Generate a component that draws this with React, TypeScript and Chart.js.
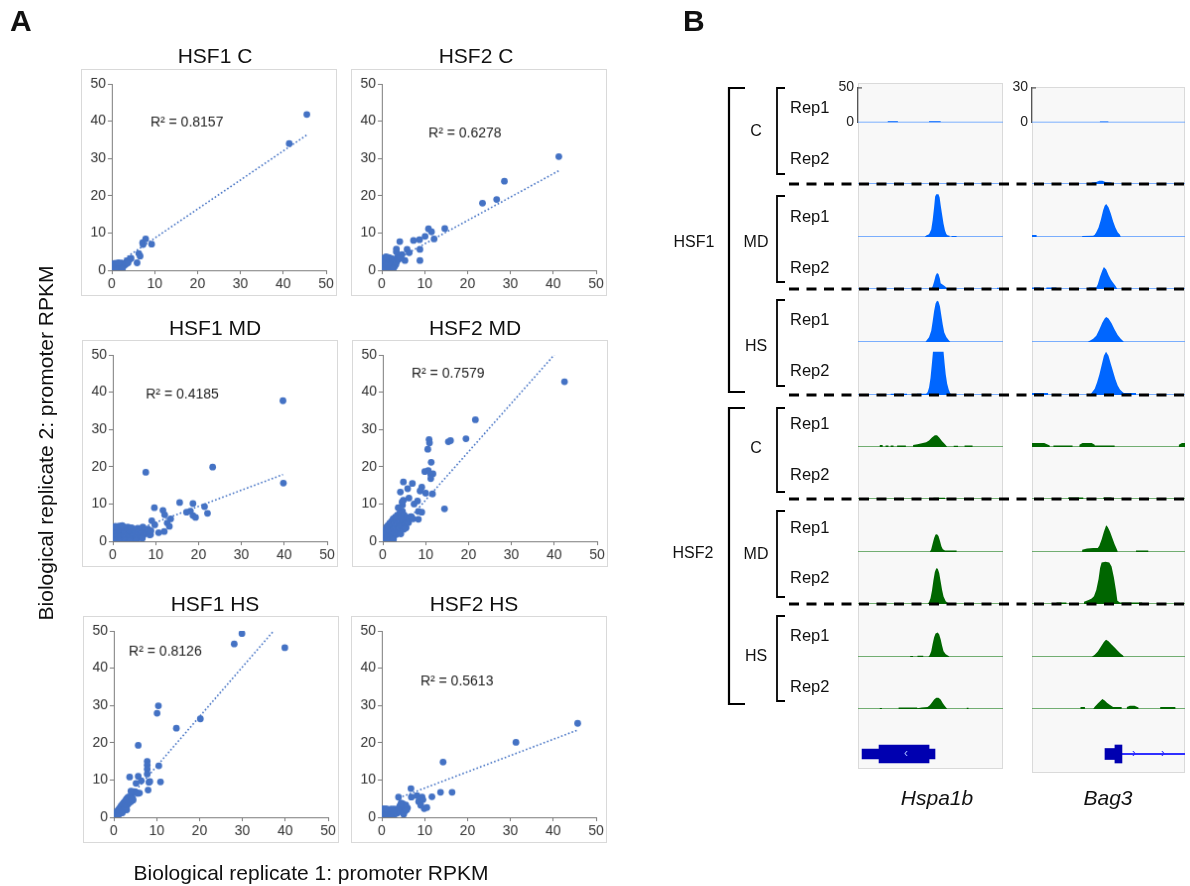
import React, { useEffect, useRef } from "react";
import { Chart, registerables } from "chart.js";
Chart.register(...registerables);

const FONT = "'Liberation Sans', Arial, Helvetica, sans-serif";
Chart.defaults.font.family = FONT;

// ---------------- Panel A data ----------------
const AXIS_TICKS = [0, 10, 20, 30, 40, 50];

const HSF1_C_POINTS: [number, number][] = [
  [45.5, 41.8], [41.4, 34.0], [7.9, 8.4], [7.2, 7.4], [7.3, 6.9], [9.3, 7.0], [6.3, 4.5], [6.6, 3.8],
  [5.9, 2.0], [4.5, 3.2], [3.6, 2.4], [3.9, 2.7], [4.2, 2.9],
  [0.1, 0.1], [0.2, 0.4], [0.3, 0.2], [0.4, 0.7], [0.5, 0.3], [0.6, 1.0], [0.7, 0.5], [0.8, 0.8],
  [0.9, 1.3], [1.0, 0.4], [1.1, 0.9], [1.2, 1.5], [1.3, 0.6], [1.4, 1.1], [1.5, 1.8], [1.6, 0.8],
  [1.7, 1.3], [1.8, 0.5], [1.9, 1.6], [2.0, 1.0], [2.1, 1.9], [2.2, 0.7], [2.3, 1.4], [2.4, 1.1],
  [2.6, 1.7], [2.8, 1.2], [3.0, 1.9], [3.2, 1.5], [3.4, 2.2], [3.6, 2.5], [3.8, 2.0], [0.3, 1.4],
  [0.5, 1.8], [0.2, 0.9], [1.0, 1.9], [1.6, 2.0], [0.8, 0.1], [1.4, 0.2], [2.5, 0.5],
];
const HSF1_C_TREND: [number, number][] = [[0, 0.8], [45.5, 36.3]];

const HSF2_C_POINTS: [number, number][] = [
  [41.3, 30.5], [28.6, 23.9], [26.8, 19.0], [23.5, 18.0], [14.7, 11.2], [10.9, 11.1], [11.6, 10.3],
  [12.2, 8.4], [10.1, 9.1], [8.8, 8.2], [7.4, 8.0], [8.9, 2.6], [8.9, 5.6], [4.2, 7.7], [3.4, 5.7],
  [5.9, 5.6], [6.4, 4.7], [4.7, 4.2], [5.4, 2.6],
  [0.1, 0.2], [0.2, 0.8], [0.3, 1.5], [0.4, 2.2], [0.5, 0.4], [0.6, 1.1], [0.7, 2.8], [0.8, 0.6],
  [0.9, 1.8], [1.0, 2.5], [1.1, 0.3], [1.2, 1.3], [1.3, 3.0], [1.4, 0.9], [1.5, 2.0], [1.6, 3.4],
  [1.7, 1.5], [1.8, 0.5], [1.9, 2.6], [2.0, 1.1], [2.1, 3.2], [2.2, 1.8], [2.3, 0.8], [2.4, 2.4],
  [2.5, 1.4], [2.6, 3.0], [2.8, 2.0], [3.0, 1.0], [3.1, 2.7], [3.3, 1.6], [3.5, 2.3], [3.7, 3.5],
  [4.0, 3.0], [4.3, 3.6], [3.4, 4.9], [0.2, 2.9], [0.5, 3.3], [1.0, 3.6], [0.3, 0.1], [2.7, 0.5],
];
const HSF2_C_TREND: [number, number][] = [[0, 0.8], [41.3, 26.7]];

const HSF1_MD_POINTS: [number, number][] = [
  [39.7, 37.7], [39.8, 15.6], [23.3, 19.9], [7.7, 18.5], [21.4, 9.3], [22.1, 7.5], [15.6, 10.4],
  [18.7, 10.1], [18.1, 8.1], [17.2, 7.8], [18.7, 6.9], [19.3, 6.4], [9.7, 9.0], [11.7, 8.3],
  [12.1, 7.1], [13.5, 6.0], [12.7, 4.9], [13.2, 4.0], [12.0, 2.6], [9.1, 5.5], [9.8, 4.4],
  [8.8, 1.8], [10.7, 2.3],
  [0.1, 0.3], [0.2, 1.5], [0.3, 2.6], [0.4, 3.5], [0.5, 0.8], [0.6, 2.0], [0.7, 3.0], [0.8, 1.2],
  [0.9, 3.8], [1.0, 0.4], [1.1, 2.4], [1.2, 1.6], [1.3, 3.3], [1.4, 0.9], [1.5, 4.1], [1.6, 2.8],
  [1.8, 1.3], [1.9, 3.6], [2.0, 0.6], [2.1, 2.1], [2.3, 3.0], [2.4, 1.0], [2.5, 3.9], [2.7, 1.8],
  [2.8, 2.7], [3.0, 0.8], [3.1, 3.4], [3.2, 1.5], [3.4, 2.5], [3.5, 3.8], [3.6, 0.5], [3.8, 1.9],
  [3.9, 3.1], [4.1, 1.2], [4.2, 2.7], [4.4, 3.6], [4.5, 0.9], [4.7, 2.2], [4.8, 1.5], [5.0, 3.2],
  [5.1, 0.6], [5.3, 2.0], [5.4, 2.9], [5.6, 1.3], [5.8, 3.5], [6.0, 2.4], [6.2, 1.0], [6.4, 3.0],
  [6.6, 1.9], [6.8, 2.6], [7.0, 3.8], [7.2, 1.7], [7.5, 3.0], [7.8, 2.3], [8.2, 3.3], [8.6, 1.7],
  [8.9, 2.8], [0.3, 0.1], [1.7, 0.2], [2.9, 0.3], [4.0, 0.2], [5.5, 0.3], [6.9, 0.8], [0.6, 4.0],
  [2.2, 4.2],
];
const HSF1_MD_TREND: [number, number][] = [[0, 0.7], [39.7, 17.9]];

const HSF2_MD_POINTS: [number, number][] = [
  [42.4, 42.8], [21.6, 32.6], [19.4, 27.5], [10.8, 27.3], [10.9, 26.4], [15.3, 26.7], [15.8, 27.0],
  [10.5, 24.7], [11.3, 21.2], [9.8, 18.7], [10.6, 19.0], [11.2, 17.9], [11.7, 18.1], [11.2, 16.8],
  [11.6, 12.7], [14.4, 8.7], [4.8, 15.9], [6.9, 15.5], [9.1, 14.5], [8.7, 13.5], [4.1, 13.2],
  [5.8, 14.1], [10.0, 12.9], [6.1, 11.6], [4.8, 11.0], [8.1, 10.8], [7.3, 10.0], [8.3, 8.0],
  [9.1, 7.8], [8.3, 5.9], [4.6, 9.7], [6.7, 6.5], [5.4, 3.7],
  [0.1, 0.2], [0.2, 1.0], [0.3, 2.0], [0.4, 0.5], [0.5, 3.0], [0.6, 1.5], [0.7, 0.3], [0.8, 2.5],
  [0.9, 3.8], [1.0, 1.0], [1.1, 2.0], [1.2, 4.2], [1.3, 0.6], [1.4, 3.2], [1.5, 1.7], [1.6, 4.8],
  [1.7, 2.6], [1.8, 0.9], [1.9, 3.7], [2.0, 5.3], [2.1, 1.6], [2.2, 2.9], [2.3, 4.4], [2.4, 6.0],
  [2.5, 1.2], [2.6, 3.5], [2.7, 2.2], [2.8, 5.0], [2.9, 6.5], [3.0, 4.0], [3.1, 1.8], [3.2, 3.0],
  [3.3, 5.8], [3.4, 7.0], [3.5, 4.6], [3.6, 2.5], [3.8, 6.2], [3.9, 3.6], [4.0, 7.6], [4.1, 5.2],
  [4.2, 2.0], [4.4, 6.6], [4.5, 4.3], [4.6, 8.0], [4.8, 5.8], [4.9, 3.2], [5.0, 7.0], [5.2, 6.0],
  [5.3, 4.6], [5.4, 3.6], [5.6, 5.6], [5.8, 6.4], [6.0, 5.0], [6.3, 6.2], [6.6, 6.6], [7.0, 6.0],
  [3.6, 9.0], [4.5, 10.5], [1.5, 0.2], [2.5, 0.5],
];
const HSF2_MD_TREND: [number, number][] = [[1.5, 0], [40.0, 50]];

const HSF1_HS_POINTS: [number, number][] = [
  [29.9, 49.3], [28.1, 46.5], [39.9, 45.5], [10.4, 29.9], [10.1, 27.9], [20.2, 26.4], [14.6, 23.9],
  [5.7, 19.3], [7.8, 15.0], [7.8, 14.0], [7.8, 12.9], [7.8, 11.6], [10.5, 13.8], [10.9, 9.5],
  [3.7, 10.8], [5.7, 11.0], [6.4, 9.8], [5.2, 9.1], [8.2, 9.4], [8.4, 9.6], [8.0, 7.3], [4.4, 6.9],
  [6.0, 6.5],
  [0.1, 0.1], [0.2, 0.5], [0.3, 0.2], [0.4, 0.9], [0.5, 0.4], [0.6, 1.2], [0.7, 0.7], [0.8, 1.6],
  [0.9, 0.5], [1.0, 1.3], [1.1, 2.0], [1.2, 0.9], [1.3, 1.7], [1.4, 2.5], [1.5, 1.2], [1.6, 2.1],
  [1.7, 3.0], [1.8, 1.5], [1.9, 2.6], [2.0, 3.4], [2.1, 1.9], [2.2, 2.9], [2.3, 3.9], [2.4, 2.3],
  [2.5, 3.3], [2.6, 4.3], [2.7, 2.6], [2.8, 3.7], [2.9, 4.8], [3.0, 3.0], [3.1, 4.1], [3.2, 5.2],
  [3.3, 3.5], [3.4, 4.5], [3.5, 5.5], [3.6, 3.9], [3.8, 4.8], [4.0, 4.2], [4.2, 5.4], [4.5, 4.6],
  [4.8, 6.9], [5.2, 6.7], [5.6, 6.4], [4.0, 7.0], [3.0, 2.0], [2.0, 1.2], [1.0, 0.3], [4.4, 5.0],
];
const HSF1_HS_TREND: [number, number][] = [[0, 0.4], [37.3, 50]];

const HSF2_HS_POINTS: [number, number][] = [
  [45.7, 25.2], [31.3, 20.1], [14.3, 14.8], [6.8, 7.7], [3.9, 5.4], [6.9, 5.4], [8.2, 5.8],
  [13.7, 6.7], [16.4, 6.7], [11.7, 5.5], [9.4, 5.4], [8.6, 4.2], [9.6, 4.7], [9.9, 2.3],
  [10.5, 2.6], [9.1, 3.2], [4.9, 3.6], [6.0, 2.5], [5.1, 0.8],
  [0.1, 0.1], [0.2, 0.6], [0.3, 1.2], [0.4, 1.8], [0.5, 0.3], [0.6, 0.9], [0.7, 1.5], [0.8, 2.0],
  [0.9, 0.4], [1.0, 1.1], [1.1, 1.7], [1.2, 0.2], [1.3, 0.8], [1.4, 1.4], [1.5, 2.1], [1.6, 0.5],
  [1.7, 1.2], [1.8, 1.8], [1.9, 0.3], [2.0, 1.0], [2.1, 1.6], [2.2, 2.2], [2.3, 0.6], [2.4, 1.3],
  [2.5, 1.9], [2.6, 0.4], [2.7, 1.1], [2.8, 1.7], [2.9, 2.2], [3.0, 0.8], [3.2, 1.5], [3.4, 2.0],
  [3.6, 1.1], [3.8, 1.8], [4.0, 2.5], [4.2, 3.0], [4.4, 1.5], [4.6, 3.5], [4.8, 2.2], [5.0, 3.1],
  [5.2, 1.3], [5.4, 2.7], [5.6, 3.3], [5.8, 2.0], [4.5, 3.8], [0.4, 2.3], [1.0, 2.3],
];
const HSF2_HS_TREND: [number, number][] = [[4.0, 5.2], [45.7, 23.4]];

// ---------------- Panel B data (x: 0-100 across locus, y: signal) ----------------
const HSPA1B_HSF1_C_REP1 = [[0, 0], [20.5, 0], [20.5, 2], [27.5, 2], [27.5, 0], [49, 0], [49, 2], [57, 2], [57, 0], [100, 0]];
const HSPA1B_HSF1_C_REP2 = [[0, 0], [100, 0]];
const HSPA1B_HSF1_MD_REP1 = [[0, 0], [46, 0], [47, 1.5], [49, 3], [50.5, 8], [51.5, 18], [52.5, 32], [53.2, 43], [54, 45.5], [55.5, 45.5], [56.3, 42], [57, 34], [58, 24], [59, 14], [60, 7], [61, 3], [62, 1.5], [63, 1.5], [63.2, 0], [64.5, 0], [64.5, 1], [68, 1], [68, 0], [100, 0]];
const HSPA1B_HSF1_MD_REP2 = [[0, 0], [39.5, 0], [39.5, 1], [40.5, 1], [40.5, 0], [50.5, 0], [51.5, 3], [52.5, 8], [53.5, 14], [54.5, 17], [55.5, 16], [56.5, 11], [57, 6], [58, 5], [59.5, 3.5], [61, 1.5], [62, 0], [96, 0], [96, 1.2], [97, 1.2], [97, 0], [100, 0]];
const HSPA1B_HSF1_HS_REP1 = [[0, 0], [46.5, 0], [47.5, 2], [49, 5], [50.5, 12], [51.5, 22], [52.5, 33], [53.5, 41], [54.5, 44], [55.5, 43], [56.5, 38], [57.5, 28], [58.5, 18], [59.5, 10], [61, 5], [62.5, 2], [63.7, 0], [100, 0]];
const HSPA1B_HSF1_HS_REP2 = [[0, 0], [22.5, 0], [22.5, 1.2], [33.8, 1.2], [33.8, 0], [40.7, 0], [40.7, 1.2], [47, 1.2], [48, 3], [49, 8], [50, 18], [51, 34], [51.7, 46], [59, 46], [59.7, 34], [60.5, 22], [61.5, 12], [62.5, 6], [63.5, 2], [64.5, 0], [100, 0]];
const HSPA1B_HSF2_C_REP1 = [[0, 0], [15, 0], [15, 2], [17, 2], [17, 0], [19, 0], [19, 1.5], [21, 1.5], [21, 0], [22.5, 0], [22.5, 1.5], [24.5, 1.5], [24.5, 0], [27, 0], [27, 1.5], [33, 1.5], [33, 0], [38, 0], [38, 2], [41, 3], [44, 4], [47, 5], [49, 7], [51, 10], [53, 12.5], [54.5, 12.5], [56, 10], [58, 6], [60, 3], [61, 1], [61.5, 0], [66, 0], [66, 1.2], [69, 1.2], [69, 0], [73.5, 0], [73.5, 1.5], [79, 1.5], [79, 0], [100, 0]];
const HSPA1B_HSF2_C_REP2 = [[0, 0], [52, 0], [52, 1.2], [60, 1.2], [60, 0], [100, 0]];
const HSPA1B_HSF2_MD_REP1 = [[0, 0], [49.5, 0], [50.5, 3], [51.5, 9], [52.5, 15], [53.5, 18.5], [54.5, 19], [55.5, 17], [56.5, 12], [57.5, 6], [58.5, 3], [60, 1.5], [68, 1.5], [68, 0], [100, 0]];
const HSPA1B_HSF2_MD_REP2 = [[0, 0], [48, 0], [49, 2], [50, 6], [51, 14], [52, 25], [53, 34], [54, 38], [55, 37.5], [56, 33], [57, 24], [58, 15], [59, 8], [60.5, 3], [62, 1], [62.5, 0], [100, 0]];
const HSPA1B_HSF2_HS_REP1 = [[0, 0], [36, 0], [36, 1], [38, 1], [38, 0], [41, 0], [41, 1.2], [45, 1.2], [45, 0], [48.5, 0], [49.5, 2], [50.5, 6], [51.5, 14], [52.5, 21], [53.5, 25], [55, 26], [56, 24], [57, 19], [58, 12], [59, 6], [60.5, 3], [62.5, 1], [63, 0], [100, 0]];
const HSPA1B_HSF2_HS_REP2 = [[0, 0], [15, 0], [15, 1], [16.5, 1], [16.5, 0], [28, 0], [28, 1.5], [40.7, 1.5], [41, 0.8], [44, 1.5], [48, 2], [49.5, 4], [51, 7], [52.5, 10], [54, 12], [55.5, 12], [57, 10], [58.5, 6], [60, 3], [61, 1], [61.5, 0], [75, 0], [75, 1.2], [76.2, 1.2], [76.2, 0], [100, 0]];

const BAG3_HSF1_C_REP1 = [[0, 0], [44.4, 0], [44.4, 1], [49.9, 1], [49.9, 0], [100, 0]];
const BAG3_HSF1_C_REP2 = [[0, 0], [39, 0], [39, 1], [42, 1.3], [44, 2], [46, 2], [48, 1.3], [52, 1], [52, 0], [100, 0]];
const BAG3_HSF1_MD_REP1 = [[0, 0], [0, 1.3], [3, 1.3], [3, 0], [32.8, 0], [32.8, 0.7], [40, 0.8], [41, 1.5], [42, 3], [43.5, 6], [45, 11], [46.5, 17], [47.5, 20], [48.5, 21], [50, 19], [51.5, 15], [53, 10], [54.5, 6], [56, 3], [57.5, 1.5], [58, 0], [100, 0]];
const BAG3_HSF1_MD_REP2 = [[0, 0], [0, 1], [5.5, 1], [5.5, 0], [9.4, 0], [9.4, 1], [16, 1], [16, 0], [37, 0], [37, 1], [42, 1], [43, 3], [44.5, 8], [46, 12], [47, 14], [48.5, 12.5], [50, 9], [51.5, 6], [53, 4], [54.5, 2], [55.8, 0], [100, 0]];
const BAG3_HSF1_HS_REP1 = [[0, 0], [36.3, 0], [38, 1], [40, 2], [42, 4], [44, 8], [46, 12.5], [47.5, 15], [48.5, 16], [50, 15], [52, 12], [54, 8], [56, 4.5], [58, 2], [59.7, 0.5], [60, 0], [100, 0]];
const BAG3_HSF1_HS_REP2 = [[0, 0], [0, 1.3], [10.5, 1.3], [10.5, 0], [38, 0], [39.5, 2], [41, 4], [42.5, 8], [44, 13], [45.5, 19], [47, 25], [48.4, 27.6], [50, 25], [51.5, 20], [53, 15], [54.5, 10], [56, 6], [57.5, 3.5], [59, 2], [60, 1.3], [68, 1.3], [68, 0], [100, 0]];
const BAG3_HSF2_C_REP1 = [[0, 0], [0, 2.6], [8, 2.6], [11.6, 1], [11.6, 0], [14, 0], [14, 1], [26.5, 1], [26.5, 0], [31, 0], [31, 1.5], [33, 2.6], [39, 2.6], [41, 1.5], [41, 1], [54, 1], [54, 0], [96, 0], [96, 1.5], [98, 2.6], [100, 2.6]];
const BAG3_HSF2_C_REP2 = [[0, 0], [23.6, 0], [23.6, 1], [33.5, 1], [33.5, 0], [46.6, 0], [46.6, 1], [52, 1], [52, 0], [100, 0]];
const BAG3_HSF2_MD_REP1 = [[0, 0], [32.8, 0], [32.8, 1.5], [36, 2.2], [40, 2.6], [43, 2.6], [44, 4], [45.5, 8], [47, 13], [48.5, 17], [49.5, 16], [51, 13], [52.5, 9], [54, 5], [55.8, 1], [56, 0], [68, 0], [68, 1], [76, 1], [76, 0], [100, 0]];
const BAG3_HSF2_MD_REP2 = [[0, 0], [16, 0], [16, 1], [22.5, 1], [22.5, 0], [34, 0], [34, 1.5], [37, 2.5], [39, 3.5], [40.5, 5], [42, 9], [43.5, 16], [44.5, 23], [45.5, 26.5], [48, 27], [50.5, 26.5], [52, 24], [53.5, 17], [55, 8], [55.8, 2], [57.5, 1], [72, 1], [72, 0], [100, 0]];
const BAG3_HSF2_HS_REP1 = [[0, 0], [39, 0], [41, 1.5], [43, 3.5], [45, 6.5], [47, 9.5], [48.4, 11], [50, 10], [52, 8], [54, 6], [56, 4], [58, 2], [59.5, 1], [60, 0], [100, 0]];
const BAG3_HSF2_HS_REP2 = [[0, 0], [31.7, 0], [31.7, 1.2], [34.6, 1.2], [34.6, 0], [40, 0], [41, 1.5], [43, 3.5], [45, 5.5], [46, 6.4], [47.5, 5.5], [49, 4], [51, 2.5], [53, 1.3], [58.6, 1.2], [58.6, 0], [62, 0], [62, 1.2], [64, 2], [67, 2], [69.6, 1], [69.6, 0], [83.8, 0], [83.8, 1.2], [93.7, 1.2], [93.7, 0], [100, 0]];

const HSPA1B_TRACKS = [HSPA1B_HSF1_C_REP1, HSPA1B_HSF1_C_REP2, HSPA1B_HSF1_MD_REP1, HSPA1B_HSF1_MD_REP2, HSPA1B_HSF1_HS_REP1, HSPA1B_HSF1_HS_REP2, HSPA1B_HSF2_C_REP1, HSPA1B_HSF2_C_REP2, HSPA1B_HSF2_MD_REP1, HSPA1B_HSF2_MD_REP2, HSPA1B_HSF2_HS_REP1, HSPA1B_HSF2_HS_REP2];
const BAG3_TRACKS = [BAG3_HSF1_C_REP1, BAG3_HSF1_C_REP2, BAG3_HSF1_MD_REP1, BAG3_HSF1_MD_REP2, BAG3_HSF1_HS_REP1, BAG3_HSF1_HS_REP2, BAG3_HSF2_C_REP1, BAG3_HSF2_C_REP2, BAG3_HSF2_MD_REP1, BAG3_HSF2_MD_REP2, BAG3_HSF2_HS_REP1, BAG3_HSF2_HS_REP2];
const HSPA1B_MAX = 50;
const BAG3_MAX = 30;

// gene models (x range in locus units)
const HSPA1B_UTR = [2.8, 53.1];
const HSPA1B_CDS = [14.5, 49.0];
const HSPA1B_ARROWS = [33.1];
const BAG3_UTR = [47.7, 54.9];
const BAG3_CDS = [54.2, 58.8];
const BAG3_INTRON = [58.8, 100];
const BAG3_ARROWS = [66.7, 85.6];

// ---------------- styling/layout ----------------
const BLUE = "#4472C4";
const AXIS = "#7b7b7b";
const TICK = "#333333";
const TRACK_BLUE = "rgb(0,102,255)";
const TRACK_BLUE_LINE = "rgb(80,150,255)";
const TRACK_GREEN = "rgb(0,102,0)";
const TRACK_GREEN_LINE = "rgb(70,150,70)";
const BASELINES = [132, 184, 237, 289, 342, 395, 447, 499, 552, 604, 657, 709];
const REP_Y = [107, 158, 216, 267, 319, 370, 423, 474, 527, 577, 635, 686];

function Scatter(props: any) {
  const { plotLeft, plotTop, points, trend, r2, r2At } = props;
  const ref = useRef<HTMLCanvasElement>(null);
  useEffect(() => {
    const labelPlugin = {
      id: "r2label",
      afterDatasetsDraw(chart: any) {
        const { ctx, scales } = chart;
        ctx.save();
        ctx.font = `14px ${FONT}`;
        ctx.fillStyle = "#222";
        ctx.textAlign = "left";
        ctx.textBaseline = "middle";
        ctx.fillText(r2, scales.x.getPixelForValue(r2At[0]), scales.y.getPixelForValue(r2At[1]));
        ctx.restore();
      },
    };
    const axisCommon = {
      type: "linear",
      min: 0,
      max: 50,
      afterBuildTicks: (s: any) => { s.ticks = AXIS_TICKS.map((v) => ({ value: v })); },
      ticks: { font: { size: 14, family: FONT }, color: TICK, padding: 2, maxRotation: 0 },
      grid: { drawOnChartArea: false, drawTicks: true, tickLength: 4, color: AXIS, lineWidth: 1 },
      border: { display: true, color: AXIS, width: 1 },
    };
    const c = new Chart(ref.current as HTMLCanvasElement, {
      type: "scatter",
      data: {
        datasets: [
          {
            data: points.map(([x, y]: number[]) => ({ x, y })),
            backgroundColor: BLUE,
            borderColor: BLUE,
            pointRadius: 3.4,
            pointBorderWidth: 0,
            order: 0,
          } as any,
          {
            type: "line",
            data: trend.map(([x, y]: number[]) => ({ x, y })),
            borderColor: BLUE,
            borderWidth: 1.6,
            borderDash: [1.6, 2.2],
            pointRadius: 0,
            showLine: true,
            fill: false,
            order: 1,
          } as any,
        ],
      },
      options: {
        animation: false,
        responsive: false,
        maintainAspectRatio: false,
        layout: { padding: { top: 14, right: 10, bottom: 0, left: 0 } },
        plugins: { legend: { display: false }, tooltip: { enabled: false } },
        scales: {
          x: { ...axisCommon, afterFit: (s: any) => { s.height = 25; } } as any,
          y: { ...axisCommon, afterFit: (s: any) => { s.width = 30; } } as any,
        },
      },
      plugins: [labelPlugin],
    });
    return () => c.destroy();
  }, []);
  return (
    <canvas
      ref={ref}
      width={256}
      height={227}
      style={{ position: "absolute", left: plotLeft - 30, top: plotTop - 14, width: 256, height: 227, border: "1px solid #d9d9d9", boxSizing: "border-box" }}
    />
  );
}

function Track(props: any) {
  const { left, baseline, width, profile, max, fill, line, axis } = props;
  const ref = useRef<HTMLCanvasElement>(null);
  const extraL = axis ? 30 : 0;
  const extraT = axis ? 10 : 0;
  const cw = width + extraL;
  const ch = 50 + extraT;
  useEffect(() => {
    const tickPlugin = {
      id: "dataRangeTick",
      afterDraw(chart: any) {
        if (!axis) return;
        const { ctx, chartArea } = chart;
        ctx.save();
        ctx.strokeStyle = "#555";
        ctx.lineWidth = 1.2;
        ctx.beginPath();
        ctx.moveTo(chartArea.left, chartArea.top + 0.5);
        ctx.lineTo(chartArea.left + 4, chartArea.top + 0.5);
        ctx.stroke();
        ctx.restore();
      },
    };
    const yScale: any = axis
      ? {
          type: "linear",
          min: 0,
          max,
          display: true,
          afterFit: (s: any) => { s.width = 30; },
          afterBuildTicks: (s: any) => { s.ticks = [{ value: 0 }, { value: max }]; },
          ticks: { font: { size: 14, family: FONT }, color: "#222", padding: 4 },
          grid: { drawOnChartArea: false, drawTicks: false },
          border: { display: true, color: "#555", width: 1.2 },
        }
      : { type: "linear", min: 0, max, display: false };
    const c = new Chart(ref.current as HTMLCanvasElement, {
      type: "line",
      data: {
        datasets: [
          {
            data: profile.map(([x, y]: number[]) => ({ x, y })),
            backgroundColor: fill,
            borderWidth: 0,
            pointRadius: 0,
            fill: "origin",
            tension: 0,
            order: 0,
          } as any,
          {
            data: [{ x: 0, y: 0 }, { x: 100, y: 0 }],
            borderColor: line,
            borderWidth: 1.6,
            pointRadius: 0,
            fill: false,
            order: 1,
          } as any,
        ],
      },
      options: {
        animation: false,
        responsive: false,
        maintainAspectRatio: false,
        layout: { padding: { top: extraT, bottom: 3, left: 0, right: 0 } },
        plugins: { legend: { display: false }, tooltip: { enabled: false } },
        scales: {
          x: { type: "linear", min: 0, max: 100, display: false },
          y: yScale,
        },
      },
      plugins: [tickPlugin],
    });
    return () => c.destroy();
  }, []);
  return (
    <canvas
      ref={ref}
      width={cw}
      height={ch}
      style={{ position: "absolute", left: left - extraL, top: baseline - 47 - extraT, width: cw, height: ch }}
    />
  );
}

function GeneTrack(props: any) {
  const { left, width, center, parts, arrows, arrowChar, arrowColor } = props;
  const ref = useRef<HTMLCanvasElement>(null);
  useEffect(() => {
    const arrowPlugin = {
      id: "strandArrows",
      afterDatasetsDraw(chart: any) {
        const { ctx, scales, chartArea } = chart;
        ctx.save();
        ctx.fillStyle = arrowColor;
        ctx.font = `12px ${FONT}`;
        ctx.textAlign = "center";
        ctx.textBaseline = "middle";
        const yc = (chartArea.top + chartArea.bottom) / 2;
        arrows.forEach((a: number) => ctx.fillText(arrowChar, scales.x.getPixelForValue(a), yc));
        ctx.restore();
      },
    };
    const c = new Chart(ref.current as HTMLCanvasElement, {
      type: "bar",
      data: {
        labels: ["gene"],
        datasets: parts.map((p: any, i: number) => ({
          data: [p.range],
          backgroundColor: p.color,
          barThickness: p.thick,
          grouped: false,
          order: i,
        })),
      },
      options: {
        indexAxis: "y",
        animation: false,
        responsive: false,
        maintainAspectRatio: false,
        layout: { padding: 0 },
        plugins: { legend: { display: false }, tooltip: { enabled: false } },
        scales: {
          x: { type: "linear", min: 0, max: 100, display: false },
          y: { display: false },
        },
      } as any,
      plugins: [arrowPlugin],
    });
    return () => c.destroy();
  }, []);
  return (
    <canvas ref={ref} width={width} height={38} style={{ position: "absolute", left, top: center - 19, width, height: 38 }} />
  );
}

function Text(props: any) {
  const { x, y, children, size = 16, weight = 400, italic = false, align = "center", rotate = 0 } = props;
  const tx = align === "center" ? "-50%" : "0";
  return (
    <div
      style={{
        position: "absolute",
        left: x,
        top: y,
        transform: `translate(${tx}, -50%)${rotate ? ` rotate(${rotate}deg)` : ""}`,
        transformOrigin: align === "center" ? "center" : "left center",
        fontFamily: FONT,
        fontSize: size,
        fontWeight: weight,
        fontStyle: italic ? "italic" : "normal",
        color: "#111",
        whiteSpace: "nowrap",
        lineHeight: 1,
        zIndex: 5,
      }}
    >
      {children}
    </div>
  );
}

const SCATTERS = [
  { title: "HSF1 C", tx: 215, ty: 55, plotLeft: 111, plotTop: 83, points: HSF1_C_POINTS, trend: HSF1_C_TREND, r2: "R² = 0.8157", r2At: [9.0, 39.6] },
  { title: "HSF2 C", tx: 476, ty: 55, plotLeft: 381, plotTop: 83, points: HSF2_C_POINTS, trend: HSF2_C_TREND, r2: "R² = 0.6278", r2At: [10.9, 36.7] },
  { title: "HSF1 MD", tx: 215, ty: 327, plotLeft: 112, plotTop: 354, points: HSF1_MD_POINTS, trend: HSF1_MD_TREND, r2: "R² = 0.4185", r2At: [7.7, 39.2] },
  { title: "HSF2 MD", tx: 475, ty: 327, plotLeft: 382, plotTop: 354, points: HSF2_MD_POINTS, trend: HSF2_MD_TREND, r2: "R² = 0.7579", r2At: [6.7, 45.0] },
  { title: "HSF1 HS", tx: 215, ty: 603, plotLeft: 113, plotTop: 630, points: HSF1_HS_POINTS, trend: HSF1_HS_TREND, r2: "R² = 0.8126", r2At: [3.5, 44.4] },
  { title: "HSF2 HS", tx: 474, ty: 603, plotLeft: 381, plotTop: 630, points: HSF2_HS_POINTS, trend: HSF2_HS_TREND, r2: "R² = 0.5613", r2At: [9.0, 36.4] },
];

export default function App() {
  const dashYs = [184, 289, 395, 499, 604];
  const bigBrackets = [[88, 392], [408, 704]];
  const subBrackets = [[88, 174], [196, 282], [300, 386], [408, 492], [511, 597], [616, 701]];
  const groupLabels = [
    { t: "C", y: 131 }, { t: "MD", y: 242 }, { t: "HS", y: 346 },
    { t: "C", y: 448 }, { t: "MD", y: 554 }, { t: "HS", y: 656 },
  ];
  return (
    <div style={{ position: "absolute", left: 0, top: 0, width: 1190, height: 886, background: "#fff", overflow: "hidden", fontFamily: FONT }}>
      <Text x={10} y={21} size={30} weight={700} align="left">A</Text>
      <Text x={683} y={21} size={30} weight={700} align="left">B</Text>

      {SCATTERS.map((s, i) => (
        <React.Fragment key={i}>
          <Text x={s.tx} y={s.ty} size={21}>{s.title}</Text>
          <Scatter plotLeft={s.plotLeft} plotTop={s.plotTop} points={s.points} trend={s.trend} r2={s.r2} r2At={s.r2At} />
        </React.Fragment>
      ))}
      <Text x={311} y={872} size={21}>Biological replicate 1: promoter RPKM</Text>
      <Text x={45} y={443} size={21} rotate={-90}>Biological replicate 2: promoter RPKM</Text>

      {/* Panel B column backgrounds */}
      <div style={{ position: "absolute", left: 858, top: 83, width: 145, height: 686, background: "#f8f8f8", border: "1px solid #dadada", boxSizing: "border-box" }} />
      <div style={{ position: "absolute", left: 1032, top: 87, width: 153, height: 686, background: "#f8f8f8", border: "1px solid #dadada", boxSizing: "border-box" }} />

      {HSPA1B_TRACKS.map((p, i) => (
        <Track key={"h" + i} left={858} width={145} baseline={BASELINES[i]} profile={p} max={HSPA1B_MAX}
          fill={i < 6 ? TRACK_BLUE : TRACK_GREEN} line={i < 6 ? TRACK_BLUE_LINE : TRACK_GREEN_LINE} axis={i === 0} />
      ))}
      {BAG3_TRACKS.map((p, i) => (
        <Track key={"b" + i} left={1032} width={153} baseline={BASELINES[i]} profile={p} max={BAG3_MAX}
          fill={i < 6 ? TRACK_BLUE : TRACK_GREEN} line={i < 6 ? TRACK_BLUE_LINE : TRACK_GREEN_LINE} axis={i === 0} />
      ))}

      <GeneTrack left={858} width={145} center={754} arrows={HSPA1B_ARROWS} arrowChar="‹" arrowColor="#9fb4ff"
        parts={[{ range: HSPA1B_CDS, thick: 18, color: "#0000b0" }, { range: HSPA1B_UTR, thick: 10, color: "#0000b0" }]} />
      <GeneTrack left={1032} width={153} center={754} arrows={BAG3_ARROWS} arrowChar="›" arrowColor="#2b2bff"
        parts={[{ range: BAG3_CDS, thick: 18, color: "#0000b0" }, { range: BAG3_UTR, thick: 11, color: "#0000b0" }, { range: BAG3_INTRON, thick: 1.2, color: "#3030ff" }]} />

      <svg width={1190} height={886} style={{ position: "absolute", left: 0, top: 0, zIndex: 4, pointerEvents: "none" }}>
        {dashYs.map((y) => (
          <line key={y} x1={789} x2={1190} y1={y} y2={y} stroke="#000" strokeWidth={3} strokeDasharray="10 7.5" />
        ))}
        {bigBrackets.map(([a, b], i) => (
          <path key={"B" + i} d={`M745 ${a} H729 V${b} H745`} stroke="#000" strokeWidth={2.2} fill="none" />
        ))}
        {subBrackets.map(([a, b], i) => (
          <path key={"S" + i} d={`M785 ${a} H777 V${b} H785`} stroke="#000" strokeWidth={1.8} fill="none" />
        ))}
      </svg>

      <Text x={694} y={242}>HSF1</Text>
      <Text x={693} y={553}>HSF2</Text>
      {groupLabels.map((g, i) => (
        <Text key={"g" + i} x={756} y={g.y}>{g.t}</Text>
      ))}
      {REP_Y.map((y, i) => (
        <Text key={"r" + i} x={790} y={y} size={16.5} align="left">{i % 2 === 0 ? "Rep1" : "Rep2"}</Text>
      ))}
      <Text x={937} y={797} size={21} italic>Hspa1b</Text>
      <Text x={1108} y={797} size={21} italic>Bag3</Text>
    </div>
  );
}
